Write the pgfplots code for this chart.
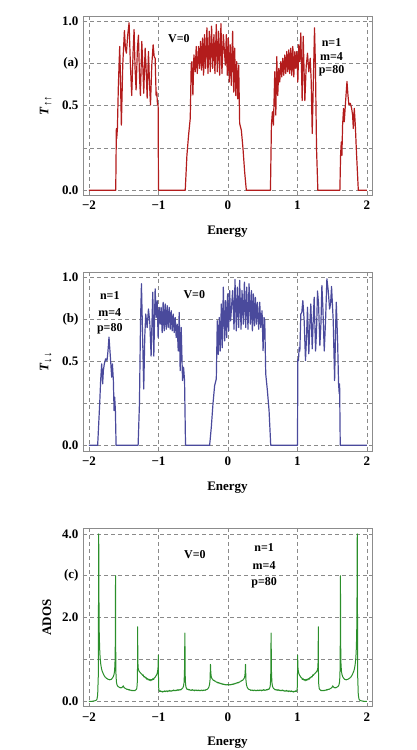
\documentclass[border=0pt]{standalone}
\usepackage{fontspec}
\setmainfont{Liberation Serif}
\usepackage{pgfplots}
\usepackage{pgfplotstable}
\pgfplotsset{compat=1.18}

\definecolor{curvered}{HTML}{B31C1C}
\definecolor{curveblue}{HTML}{4A4A9C}
\definecolor{curvegreen}{HTML}{2B8F2B}
\definecolor{framegray}{HTML}{8C8C8C}
\definecolor{gridgray}{HTML}{8A8A8A}

% spin-up transmission; the spin-down curve is its mirror image E -> -E
\pgfplotstableread{
E T
-2.000 0
-1.615 0
-1.606 0.365
-1.601 0.306
-1.591 0.365
-1.577 0.62
-1.558 0.85
-1.548 0.68
-1.534 0.385
-1.514 0.742
-1.490 0.944
-1.476 0.84
-1.462 0.81
-1.442 0.92
-1.423 0.99
-1.404 0.742
-1.385 0.56
-1.365 0.82
-1.351 0.95
-1.337 0.72
-1.322 0.593
-1.303 0.84
-1.288 0.917
-1.274 0.68
-1.260 0.56
-1.240 0.88
-1.226 0.74
-1.212 0.573
-1.192 0.84
-1.178 0.72
-1.163 0.544
-1.144 0.82
-1.130 0.643
-1.115 0.504
-1.096 0.742
-1.077 0.86
-1.062 0.79
-1.048 0.78
-1.034 0.56
-1.024 0.58
-1.014 0.504
-1.005 0.51
-1.000 0
-0.615 0
-0.591 0.206
-0.567 0.325
-0.543 0.425
-0.529 0.742
-0.519 0.76
-0.505 0.563
-0.490 0.80
-0.471 0.70
-0.457 0.85
-0.442 0.69
-0.423 0.85
-0.409 0.72
-0.394 0.88
-0.380 0.71
-0.365 0.90
-0.351 0.68
-0.337 0.92
-0.322 0.72
-0.303 0.96
-0.288 0.69
-0.269 0.94
-0.255 0.70
-0.236 0.97
-0.221 0.72
-0.202 0.92
-0.188 0.69
-0.168 0.98
-0.154 0.70
-0.135 0.94
-0.120 0.68
-0.101 0.985
-0.087 0.69
-0.067 0.92
-0.038 0.74
-0.024 0.92
-0.010 0.68
0.005 0.90
0.019 0.64
0.034 0.86
0.048 0.62
0.067 0.94
0.082 0.58
0.096 0.84
0.111 0.56
0.125 0.76
0.139 0.54
0.154 0.74
0.168 0.395
0.192 0.355
0.216 0.246
0.240 0.107
0.264 0
0.611 0
0.625 0.385
0.639 0.464
0.654 0.385
0.673 0.70
0.688 0.444
0.702 0.79
0.716 0.56
0.731 0.72
0.745 0.64
0.760 0.76
0.774 0.67
0.788 0.78
0.803 0.68
0.817 0.80
0.832 0.69
0.846 0.82
0.861 0.70
0.875 0.83
0.889 0.69
0.904 0.84
0.918 0.68
0.933 0.85
0.947 0.67
0.962 0.82
0.976 0.72
0.990 0.82
1.005 0.64
1.019 0.86
1.033 0.76
1.048 0.93
1.067 0.53
1.082 0.91
1.106 0.53
1.125 0.73
1.144 0.81
1.163 0.70
1.183 0.78
1.197 0.65
1.212 0.335
1.226 0.60
1.245 0.96
1.258 0.74
1.274 0.246
1.293 0
1.610 0
1.620 0.206
1.630 0.286
1.639 0.206
1.649 0.385
1.663 0.484
1.673 0.405
1.692 0.524
1.712 0.643
1.726 0.563
1.740 0.504
1.760 0.514
1.779 0.484
1.793 0.444
1.803 0.365
1.817 0.484
1.832 0.385
1.846 0.246
1.875 0
2.000 0
}\tupup

% averaged DOS, left half (the curve is symmetric about E=0)
\pgfplotstableread{
E A
-2.000 0.00
-1.950 0.00
-1.920 0.01
-1.900 0.02
-1.885 0.05
-1.875 0.15
-1.866 0.60
-1.860 4.00
-1.856 2.40
-1.852 1.60
-1.846 1.25
-1.840 1.05
-1.830 0.88
-1.820 0.78
-1.810 0.72
-1.800 0.68
-1.790 0.64
-1.780 0.61
-1.770 0.58
-1.760 0.57
-1.750 0.55
-1.740 0.54
-1.730 0.53
-1.720 0.52
-1.710 0.52
-1.700 0.51
-1.690 0.52
-1.680 0.52
-1.670 0.54
-1.660 0.56
-1.650 0.59
-1.640 0.64
-1.632 0.72
-1.626 0.90
-1.621 1.40
-1.618 3.00
-1.615 1.20
-1.611 0.62
-1.605 0.46
-1.598 0.40
-1.590 0.37
-1.580 0.35
-1.570 0.34
-1.560 0.33
-1.550 0.32
-1.540 0.33
-1.530 0.32
-1.520 0.34
-1.510 0.36
-1.505 0.37
-1.500 0.34
-1.490 0.32
-1.480 0.31
-1.470 0.30
-1.460 0.29
-1.450 0.28
-1.440 0.29
-1.430 0.27
-1.420 0.28
-1.410 0.26
-1.400 0.27
-1.390 0.26
-1.380 0.25
-1.370 0.26
-1.360 0.25
-1.350 0.26
-1.340 0.25
-1.330 0.27
-1.320 0.28
-1.312 0.31
-1.306 0.40
-1.302 0.70
-1.300 1.78
-1.297 1.00
-1.293 0.80
-1.288 0.76
-1.280 0.72
-1.270 0.70
-1.260 0.68
-1.250 0.66
-1.240 0.65
-1.230 0.62
-1.220 0.63
-1.210 0.58
-1.200 0.59
-1.190 0.56
-1.180 0.57
-1.170 0.53
-1.160 0.54
-1.150 0.51
-1.140 0.53
-1.130 0.50
-1.120 0.52
-1.110 0.49
-1.100 0.52
-1.090 0.51
-1.080 0.54
-1.070 0.52
-1.060 0.56
-1.050 0.57
-1.040 0.60
-1.030 0.62
-1.020 0.66
-1.012 0.72
-1.006 0.82
-1.002 1.10
-0.999 0.40
-0.995 0.28
-0.990 0.25
-0.980 0.23
-0.970 0.25
-0.960 0.23
-0.950 0.24
-0.940 0.22
-0.930 0.24
-0.920 0.23
-0.910 0.25
-0.900 0.23
-0.890 0.24
-0.880 0.25
-0.870 0.23
-0.860 0.25
-0.850 0.24
-0.840 0.26
-0.830 0.24
-0.820 0.25
-0.810 0.24
-0.800 0.26
-0.790 0.25
-0.780 0.27
-0.770 0.25
-0.760 0.26
-0.750 0.25
-0.740 0.27
-0.730 0.26
-0.720 0.28
-0.710 0.26
-0.700 0.27
-0.690 0.28
-0.680 0.27
-0.670 0.29
-0.660 0.30
-0.650 0.32
-0.640 0.36
-0.632 0.45
-0.626 0.70
-0.620 1.63
-0.615 0.60
-0.610 0.40
-0.603 0.33
-0.595 0.30
-0.585 0.28
-0.575 0.29
-0.565 0.27
-0.555 0.28
-0.545 0.26
-0.535 0.27
-0.525 0.26
-0.515 0.28
-0.505 0.26
-0.495 0.27
-0.485 0.25
-0.475 0.27
-0.465 0.26
-0.455 0.27
-0.445 0.25
-0.435 0.26
-0.425 0.27
-0.415 0.25
-0.405 0.26
-0.395 0.25
-0.385 0.27
-0.375 0.26
-0.365 0.25
-0.355 0.27
-0.345 0.26
-0.335 0.27
-0.325 0.26
-0.315 0.28
-0.305 0.28
-0.295 0.29
-0.285 0.31
-0.275 0.34
-0.265 0.40
-0.258 0.52
-0.252 0.88
-0.247 0.68
-0.240 0.58
-0.230 0.54
-0.220 0.52
-0.210 0.50
-0.200 0.50
-0.190 0.48
-0.180 0.48
-0.170 0.46
-0.160 0.46
-0.150 0.44
-0.140 0.45
-0.130 0.43
-0.120 0.44
-0.110 0.42
-0.100 0.43
-0.090 0.41
-0.080 0.42
-0.070 0.40
-0.060 0.41
-0.050 0.40
-0.040 0.39
-0.030 0.40
-0.020 0.39
-0.010 0.40
0.000 0.39
}\ados

\pgfplotsset{
  panel/.style={
    scale only axis, width=289pt, anchor=south west,
    xmin=-2.086, xmax=2.072,
    xtick={-2,-1,0,1,2}, xticklabels={−2,−1,0,1,2},
    grid=major,
    grid style={gridgray, line width=0.6pt, dash pattern=on 4pt off 3pt},
    axis line style={framegray, line width=0.8pt},
    tick style={framegray, line width=0.6pt}, major tick length=3pt,
    tick label style={font=\fontsize{13}{14}\selectfont\bfseries},
    xticklabel style={yshift=-2.5pt},
    yticklabel style={xshift=-1pt},
    label style={font=\fontsize{13}{14}\selectfont\bfseries},
    xlabel={Energy},
    xlabel style={yshift=-9pt},
    ylabel style={yshift=4pt},
  },
}
\tikzset{note/.style={font=\fontsize{12}{14}\selectfont\bfseries}}

\begin{document}
\begin{tikzpicture}
\useasboundingbox (0,0) rectangle (417pt,750pt);

% (a)
\begin{axis}[panel, at={(83pt,555pt)}, height=179pt,
  ymin=-0.028, ymax=1.03,
  ytick={0,0.25,0.5,0.75,1}, yticklabels={0.0,,0.5,(a),1.0},
  ylabel={\textit{T}\raisebox{-0.45ex}{\fontsize{11}{12}\selectfont ↑↑}}]
\addplot[curvered, line width=1.2pt, line join=round] table[x=E, y=T] {\tupup};
\node[note] at (axis cs:-0.705,0.894) {V=0};
\node[note] at (axis cs:1.49,0.872) {n=1};
\node[note] at (axis cs:1.49,0.79) {m=4};
\node[note] at (axis cs:1.49,0.707) {p=80};
\end{axis}

% (b)
\begin{axis}[panel, at={(83pt,299pt)}, height=178.3pt,
  ymin=-0.034, ymax=1.026,
  ytick={0,0.25,0.5,0.75,1}, yticklabels={0.0,,0.5,(b),1.0},
  ylabel={\textit{T}\raisebox{-0.45ex}{\fontsize{11}{12}\selectfont ↓↓}}]
\addplot[curveblue, line width=1.2pt, line join=round] table[x expr=-\thisrow{E}, y=T] {\tupup};
\node[note] at (axis cs:-0.485,0.897) {V=0};
\node[note] at (axis cs:-1.70,0.893) {n=1};
\node[note] at (axis cs:-1.70,0.79) {m=4};
\node[note] at (axis cs:-1.70,0.69) {p=80};
\end{axis}

% (c)
\begin{axis}[panel, at={(83pt,43.3pt)}, height=178.7pt,
  ymin=-0.13, ymax=4.14,
  ytick={0,1,2,3,4}, yticklabels={0.0,,2.0,(c),4.0},
  ylabel={ADOS}]
\addplot[curvegreen, line width=1pt, line join=round] table[x=E, y=A] {\ados};
\addplot[curvegreen, line width=1pt, line join=round] table[x expr=-\thisrow{E}, y=A] {\ados};
\node[note] at (axis cs:-0.475,3.5) {V=0};
\node[note] at (axis cs:0.52,3.68) {n=1};
\node[note] at (axis cs:0.52,3.25) {m=4};
\node[note] at (axis cs:0.52,2.82) {p=80};
\end{axis}
\end{tikzpicture}
\end{document}
